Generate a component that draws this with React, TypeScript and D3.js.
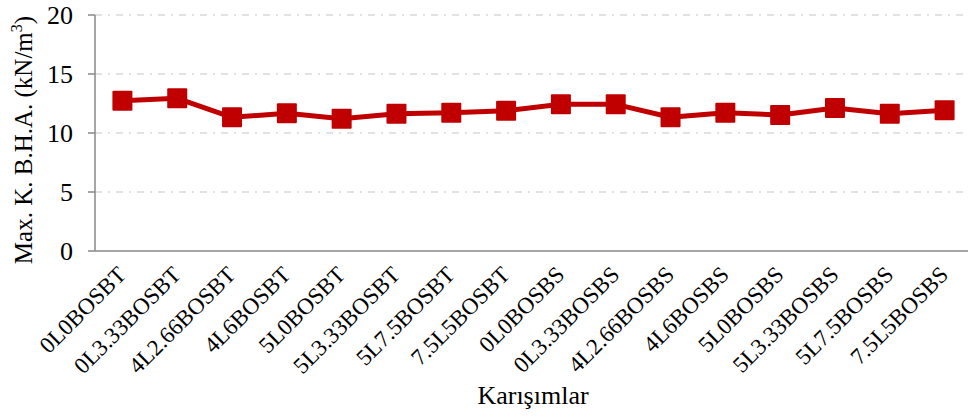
import React, { useRef, useEffect } from 'react';
import * as d3 from 'd3';

// mixture codes on the x axis
const categories = [
  '0L0BOSBT', '0L3.33BOSBT', '4L2.66BOSBT', '4L6BOSBT',
  '5L0BOSBT', '5L3.33BOSBT', '5L7.5BOSBT', '7.5L5BOSBT',
  '0L0BOSBS', '0L3.33BOSBS', '4L2.66BOSBS', '4L6BOSBS',
  '5L0BOSBS', '5L3.33BOSBS', '5L7.5BOSBS', '7.5L5BOSBS',
];

// max dry unit weight, kN/m3
const values = [
  12.74, 12.94, 11.33, 11.67, 11.21, 11.64, 11.72, 11.89,
  12.43, 12.43, 11.33, 11.72, 11.53, 12.12, 11.64, 11.92,
];

const yTicks = [0, 5, 10, 15, 20];

const W = 968;
const H = 417;
const FONT = '"Liberation Serif", "Times New Roman", serif';

const App = () => {
  const svgRef = useRef<SVGSVGElement>(null);

  useEffect(() => {
    document.body.style.margin = '0';
    if (!svgRef.current) return;
    const svg = d3.select(svgRef.current);
    svg.selectAll('*').remove();

    const left = 95;
    const right = 972;
    const top = 15;
    const bottom = 251;

    const x = d3.scaleBand<string>().domain(categories).range([left, right]);
    const y = d3.scaleLinear().domain([0, 20]).range([bottom, top]);

    // gridlines
    svg.append('g')
      .selectAll('line')
      .data(yTicks.filter(t => t > 0))
      .enter()
      .append('line')
      .attr('x1', left)
      .attr('x2', right)
      .attr('y1', d => y(d))
      .attr('y2', d => y(d))
      .attr('stroke', '#d9d9d9')
      .attr('stroke-width', 1.3)
      .attr('stroke-dasharray', '7,6,2,6');

    // x axis line
    svg.append('line')
      .attr('x1', left).attr('x2', right)
      .attr('y1', bottom).attr('y2', bottom)
      .attr('stroke', '#898989')
      .attr('stroke-width', 1.5);

    // y axis
    const yAxis = svg.append('g');
    yAxis.append('line')
      .attr('x1', left).attr('x2', left)
      .attr('y1', top).attr('y2', bottom)
      .attr('stroke', '#898989')
      .attr('stroke-width', 1.5);
    yAxis.selectAll('line.tick')
      .data(yTicks)
      .enter()
      .append('line')
      .attr('class', 'tick')
      .attr('x1', left - 7).attr('x2', left)
      .attr('y1', d => y(d)).attr('y2', d => y(d))
      .attr('stroke', '#898989')
      .attr('stroke-width', 1.5);
    yAxis.selectAll('text')
      .data(yTicks)
      .enter()
      .append('text')
      .attr('x', 73)
      .attr('y', d => y(d))
      .attr('dy', '0.35em')
      .attr('text-anchor', 'end')
      .attr('font-family', FONT)
      .attr('font-size', 26)
      .attr('fill', '#000')
      .text(d => d);

    // x tick labels, rotated
    svg.append('g')
      .selectAll('text')
      .data(categories)
      .enter()
      .append('text')
      .attr('transform', d => `translate(${x(d)! + x.bandwidth() / 2 + 5},${bottom + 25}) rotate(-45)`)
      .attr('text-anchor', 'end')
      .attr('font-family', FONT)
      .attr('font-size', 23)
      .attr('fill', '#000')
      .text(d => d);

    // y axis title
    const yTitle = svg.append('text')
      .attr('transform', `translate(32,140) rotate(-90)`)
      .attr('text-anchor', 'middle')
      .attr('font-family', FONT)
      .attr('font-size', 25)
      .attr('fill', '#000');
    yTitle.append('tspan').text('Max. K. B.H.A. (kN/m');
    yTitle.append('tspan').attr('font-size', 16).attr('dy', -10).text('3');
    yTitle.append('tspan').attr('dy', 10).text(')');

    // x axis title
    svg.append('text')
      .attr('x', 533)
      .attr('y', 404)
      .attr('text-anchor', 'middle')
      .attr('font-family', FONT)
      .attr('font-size', 26)
      .attr('fill', '#000')
      .text('Karışımlar');

    // line + markers
    const cx = (i: number) => x(categories[i])! + x.bandwidth() / 2;
    const line = d3.line<number>()
      .x((_, i) => cx(i))
      .y(d => y(d));

    svg.append('path')
      .datum(values)
      .attr('d', line)
      .attr('fill', 'none')
      .attr('stroke', '#c00000')
      .attr('stroke-width', 5)
      .attr('stroke-linejoin', 'round');

    const m = 20;
    svg.append('g')
      .selectAll('rect')
      .data(values)
      .enter()
      .append('rect')
      .attr('x', (_, i) => cx(i) - m / 2)
      .attr('y', d => y(d) - m / 2)
      .attr('width', m)
      .attr('height', m)
      .attr('rx', 1)
      .attr('fill', '#c00000');
  }, []);

  return <svg ref={svgRef} width={W} height={H} style={{ display: 'block', background: '#fff' }} />;
};

export default App;
